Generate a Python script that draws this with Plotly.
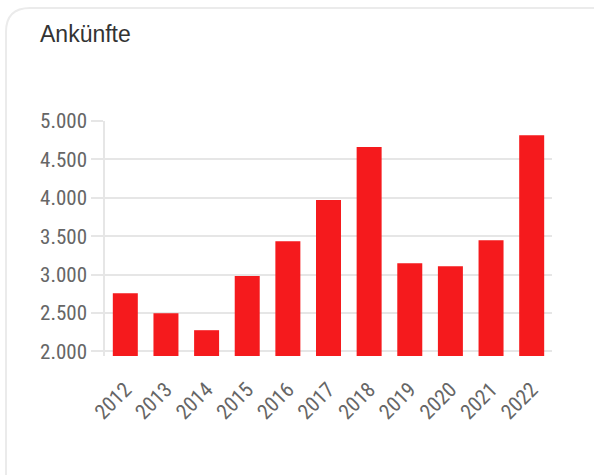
import plotly.graph_objects as go

years = ["2012", "2013", "2014", "2015", "2016", "2017", "2018", "2019", "2020", "2021", "2022"]
arrivals = [2756, 2497, 2275, 2980, 3435, 3970, 4660, 3148, 3108, 3447, 4816]
y_ticks = [2000, 2500, 3000, 3500, 4000, 4500, 5000]
title_text = "Ankünfte"

W, H = 594, 475
L, R, T, B = 105, 552, 121, 356


def px(x):
    return (x - L) / (R - L)


def py(y):
    return (B - y) / (B - T)


label_font = "Liberation Sans Narrow, Arial Narrow, Roboto Condensed, DejaVu Sans Condensed, Arial, sans-serif"

fig = go.Figure(
    go.Bar(
        x=years,
        y=[v - 1939 for v in arrivals],
        base=1939,
        marker=dict(color="#f51a1d", line=dict(width=0)),
        hoverinfo="x+y",
    )
)

card = (
    f"M {px(6)} {py(480)} L {px(6)} {py(32)} "
    f"Q {px(6)} {py(8)} {px(30)} {py(8)} L {px(600)} {py(8)}"
)

fig.update_layout(
    width=W,
    height=H,
    margin=dict(l=L, r=W - R, t=T, b=H - B),
    paper_bgcolor="white",
    plot_bgcolor="white",
    separators=",.",
    bargap=0.385,
    showlegend=False,
    title=dict(
        text=title_text,
        x=40 / W,
        xanchor="left",
        xref="container",
        y=1 - 34 / H,
        yanchor="middle",
        yref="container",
        font=dict(family="Arial, Liberation Sans, sans-serif", size=23, color="#333333"),
    ),
    shapes=[
        dict(type="path", path=card, xref="paper", yref="paper",
             line=dict(color="#ebebeb", width=2), layer="below"),
        dict(type="line", xref="paper", yref="y", x0=px(93), x1=1, y0=2000, y1=2000,
             line=dict(color="#d8d8d8", width=1.5), layer="below"),
    ],
    xaxis=dict(
        type="category",
        tickangle=-45,
        showgrid=False,
        showline=False,
        ticks="outside",
        ticklen=12,
        tickcolor="rgba(0,0,0,0)",
        tickfont=dict(family=label_font, size=21, color="#666666"),
        fixedrange=True,
    ),
    yaxis=dict(
        range=[1939, 5000],
        tickvals=y_ticks,
        tickformat=",d",
        showgrid=True,
        gridcolor="#e6e6e6",
        gridwidth=1.5,
        showline=True,
        linecolor="#e6e6e6",
        linewidth=1.5,
        ticks="outside",
        ticklen=12,
        tickcolor="#e6e6e6",
        tickwidth=1.5,
        zeroline=False,
        tickfont=dict(family=label_font, size=21, color="#666666"),
        fixedrange=True,
    ),
)

fig.write_html(
    "out.html",
    config={"displayModeBar": False},
    post_script="document.body.style.margin='0';document.body.style.overflow='hidden';",
)
